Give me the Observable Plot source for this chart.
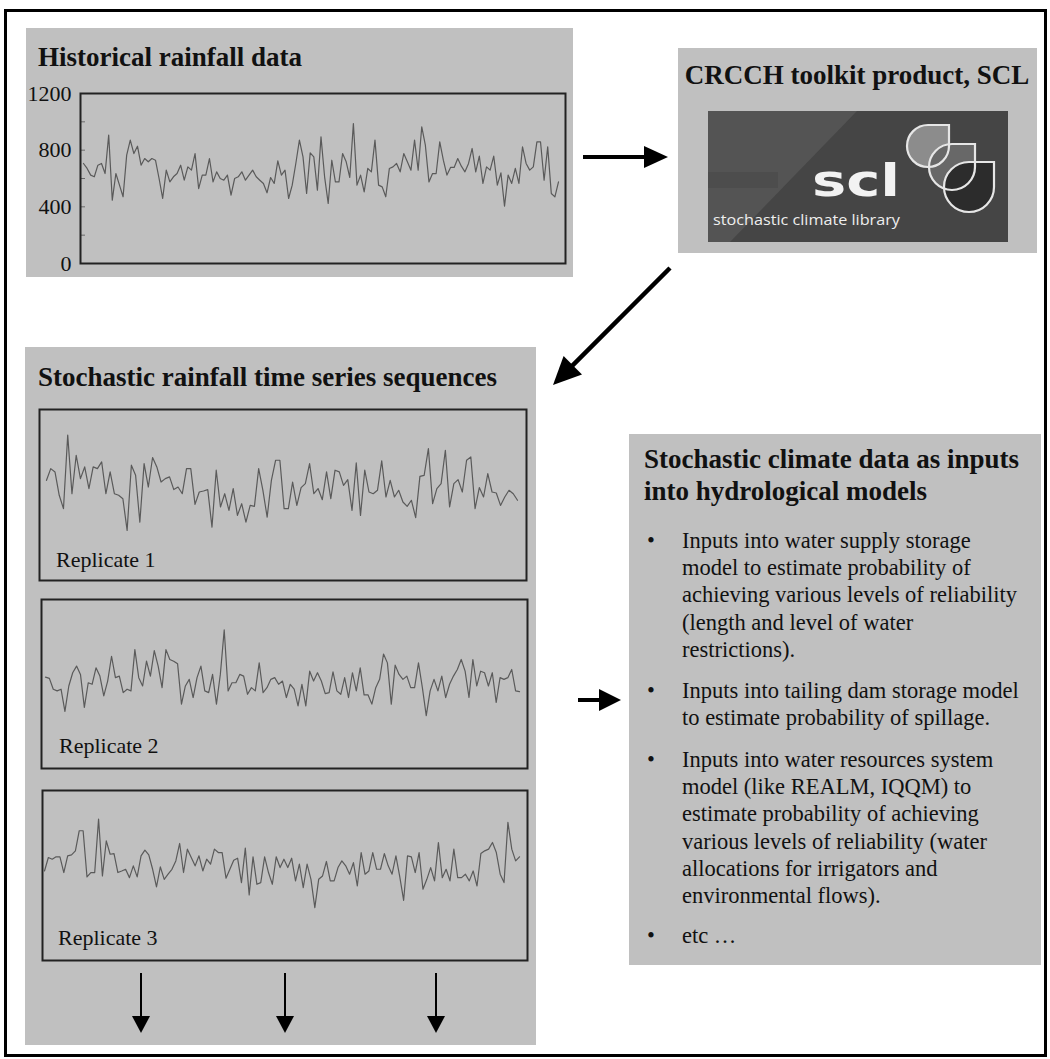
<!DOCTYPE html>
<html><head><meta charset="utf-8">
<script src="https://cdn.jsdelivr.net/npm/d3@7"></script>
<script src="https://cdn.jsdelivr.net/npm/@observablehq/plot@0.6"></script>
<style>
body{margin:0;background:#fff;}
#page{position:relative;width:1050px;height:1059px;overflow:hidden;font-family:"Liberation Serif","Times New Roman",serif;}
#page > svg{position:absolute;left:0;top:0;}
.chart{position:absolute;}
.chart svg{display:block;}
</style></head><body><div id="page"></div>
<script>
// ---- data (annual rainfall, mm) ----
const historicalRainfall = [706,671,624,612,694,706,635,906,447,635,553,471,765,871,776,828,694,741,718,741,729,600,459,659,576,612,635,694,588,682,659,776,529,624,624,741,576,647,600,588,624,482,600,612,647,588,624,659,612,588,565,499,607,565,724,624,659,459,553,706,871,753,494,781,
753,518,894,612,424,729,576,576,776,718,607,988,553,624,506,671,647,871,553,541,471,671,682,706,647,776,718,659,871,659,965,835,576,635,635,859,729,624,678,678,741,687,647,706,812,647,758,565,682,659,758,553,640,405,624,565,671,565,824,706,659,682,
859,859,588,823,494,470,576];
const replicate1 = [703,785,762,598,504,1020,609,879,715,797,645,797,785,832,609,762,609,598,574,352,809,738,410,820,656,863,797,691,715,727,638,656,609,785,785,534,621,628,638,375,774,516,609,492,645,457,539,410,527,520,785,633,445,703,844,844,504,504,691,527,652,680,820,609,645,567,762,574,774,762,668,708,492,825,457,774,621,609,633,839,586,703,586,633,551,520,563,441,731,738,926,539,645,680,914,516,680,708,621,844,867,504,652,586,750,621,614,527,586,633,609,563];
const replicate2 = [649,640,563,551,563,406,586,680,727,668,434,609,598,715,656,516,621,797,645,656,539,563,551,844,645,586,762,656,837,727,574,844,774,762,743,457,586,633,504,645,727,551,539,668,457,668,984,551,609,609,668,656,527,574,551,750,539,574,633,645,598,621,504,598,563,445,598,445,691,621,680,621,532,539,687,551,527,645,504,680,551,715,523,523,457,574,633,813,750,457,734,668,633,656,574,574,750,574,375,551,633,551,656,504,598,656,703,774,691,504,774,586,691,680,586,680,469,645,633,645,703,551,546];
const replicate3 = [632,727,715,732,732,621,739,746,774,916,916,590,621,621,998,597,845,750,755,621,632,644,585,668,590,739,779,746,644,519,661,573,609,644,703,826,621,786,727,668,739,632,715,680,786,762,762,581,644,708,722,550,793,463,732,538,550,732,621,538,732,656,715,656,722,562,680,514,680,573,373,573,597,699,562,562,656,703,668,609,691,526,762,609,632,762,644,644,755,668,609,739,590,425,739,732,621,762,503,573,656,562,833,585,644,562,786,585,585,609,562,632,526,755,774,786,833,762,609,550,975,786,703,732];
const yTicks = [0, 400, 800, 1200];
const minorTicks = [0, 200, 400, 600, 800, 1000, 1200];
const replicateLabels = ["Replicate 1", "Replicate 2", "Replicate 3"];
const boxTitles = ["Historical rainfall data", "CRCCH toolkit product, SCL", "Stochastic rainfall time series sequences"];
const usesTitle = ["Stochastic climate data as inputs", "into hydrological models"];
const usesBullets = [
  ["Inputs into water supply storage", "model to estimate probability of", "achieving various levels of reliability", "(length and level of water", "restrictions)."],
  ["Inputs into tailing dam storage model", "to estimate probability of spillage."],
  ["Inputs into water resources system", "model (like REALM, IQQM) to", "estimate probability of achieving", "various levels of reliability (water", "allocations for irrigators and", "environmental flows)."],
  ["etc \u2026"]
];

const page = document.getElementById("page");
const NS = "http://www.w3.org/2000/svg";
function el(parent, tag, attrs, text) {
  const e = document.createElementNS(NS, tag);
  for (const k in attrs) e.setAttribute(k, attrs[k]);
  if (text != null) e.textContent = text;
  parent.appendChild(e);
  return e;
}
function layerSvg() {
  const s = document.createElementNS(NS, "svg");
  s.setAttribute("width", 1050); s.setAttribute("height", 1059);
  s.style.pointerEvents = "none";
  page.appendChild(s);
  return s;
}

// ---- background layer ----
const bg = layerSvg();
el(bg, "rect", {x: 5.5, y: 10.5, width: 1040, height: 1045, fill: "none", stroke: "#000", "stroke-width": 3});
const GRAY = "#c0c0c0";
el(bg, "rect", {x: 26, y: 28, width: 547, height: 249, fill: GRAY});
el(bg, "rect", {x: 678, y: 48, width: 359, height: 205, fill: GRAY});
el(bg, "rect", {x: 25, y: 347, width: 511, height: 698, fill: GRAY});
el(bg, "rect", {x: 629, y: 434, width: 412, height: 531, fill: GRAY});

// ---- charts ----
function seriesChart(values, o) {
  const marks = [];
  if (o.axis) {
    marks.push(Plot.tickY(minorTicks, {y: d => d, insetRight: o.width - o.mL - o.mR - 5, stroke: "#6a6a6a", strokeWidth: 1}));
    marks.push(Plot.axisY({ticks: yTicks, tickSize: 0, tickPadding: 9, fontSize: 22, fill: "#111", tickFormat: d => String(d)}));
  }
  marks.push(Plot.lineY(values, {stroke: "#5a5a5a", strokeWidth: 1.2}));
  marks.push(Plot.frame({stroke: "#222", strokeWidth: 2}));
  const svg = Plot.plot({
    width: o.width, height: o.height,
    marginLeft: o.mL, marginRight: o.mR, marginTop: o.mT, marginBottom: o.mB,
    x: {domain: [0, values.length - 1], insetLeft: o.inL, insetRight: o.inR, axis: null},
    y: {domain: [0, 1200], axis: o.axis ? undefined : null},
    style: {background: "transparent", fontFamily: "Liberation Serif, serif", fontSize: "22px", color: "#111", overflow: "visible"},
    marks
  });
  const d = document.createElement("div");
  d.className = "chart";
  d.style.left = o.left + "px"; d.style.top = o.top + "px";
  d.appendChild(svg);
  page.appendChild(d);
}
seriesChart(historicalRainfall, {left: 26, top: 80, width: 547, height: 200, mL: 54, mR: 8, mT: 13, mB: 17, inL: 3, inR: 7, axis: true});
seriesChart(replicate1, {left: 38, top: 408, width: 489, height: 173, mL: 1, mR: 1, mT: 1, mB: 1, inL: 7, inR: 9});
seriesChart(replicate2, {left: 40, top: 598, width: 488, height: 171, mL: 1, mR: 1, mT: 1, mB: 1, inL: 4, inR: 8});
seriesChart(replicate3, {left: 41, top: 789, width: 487, height: 172, mL: 1, mR: 1, mT: 1, mB: 1, inL: 2, inR: 8});

// ---- foreground layer ----
const fg = layerSvg();
const serif = "Liberation Serif, Times New Roman, serif";
function title(x, y, t, anchor) {
  el(fg, "text", {x, y, "font-family": serif, "font-weight": "bold", "font-size": 27, fill: "#111", "text-anchor": anchor || "start"}, t);
}
title(38, 66, boxTitles[0]);
title(857, 84, boxTitles[1], "middle");
title(38, 386, boxTitles[2]);
title(644, 468, usesTitle[0]);
title(644, 500, usesTitle[1]);

const repBase = [[56, 567], [59, 753], [58, 945]];
replicateLabels.forEach((t, i) => el(fg, "text", {x: repBase[i][0], y: repBase[i][1], "font-family": serif, "font-size": 22, fill: "#111"}, t));

const paraStart = [548, 698, 767, 943];
usesBullets.forEach((lines, p) => {
  el(fg, "text", {x: 647, y: paraStart[p], "font-family": serif, "font-size": 22.5, fill: "#111"}, "\u2022");
  lines.forEach((ln, j) => el(fg, "text", {x: 682, y: paraStart[p] + j * 27.2, "font-family": serif, "font-size": 22.5, fill: "#111"}, ln));
});

function arrow(x1, y1, x2, y2, sw, hl, hw) {
  const dx = x2 - x1, dy = y2 - y1, L = Math.hypot(dx, dy), ux = dx / L, uy = dy / L;
  const bx = x2 - ux * hl, by = y2 - uy * hl;
  el(fg, "line", {x1, y1, x2: bx + ux * 2, y2: by + uy * 2, stroke: "#000", "stroke-width": sw});
  el(fg, "polygon", {points: `${x2},${y2} ${bx - uy * hw},${by + ux * hw} ${bx + uy * hw},${by - ux * hw}`, fill: "#000"});
}
arrow(583, 157, 668, 157, 4, 24, 11);
arrow(670, 268, 553, 385, 4.5, 28, 13);
arrow(578, 700, 621, 700, 4, 22, 11);
[141, 285, 436].forEach(x => arrow(x, 973, x, 1033, 2, 17, 9));

// ---- SCL logo ----
el(fg, "rect", {x: 708, y: 111, width: 300, height: 131, fill: "#454545"});
el(fg, "polygon", {points: "708,111 857,111 730,242 708,242", fill: "#545454"});
el(fg, "rect", {x: 708, y: 172, width: 70, height: 16, fill: "#4d4d4d"});
function dropPath(cx, cy, r) {
  return `M${cx},${cy - r} L${cx + r},${cy - r} L${cx + r},${cy} A${r},${r} 0 1 1 ${cx},${cy - r} Z`;
}
const drops = [[928, 146, 21, "#8c8c8c"], [952, 167, 23, "#686868"], [969, 187, 25, "#2c2c2c"]];
drops.forEach(d => el(fg, "path", {d: dropPath(d[0], d[1], d[2]), fill: d[3]}));
drops.forEach(d => el(fg, "path", {d: dropPath(d[0], d[1], d[2]), fill: "none", stroke: "#e6e6e6", "stroke-width": 2.2}));
el(fg, "text", {x: 812, y: 196, "font-family": "DejaVu Sans, sans-serif", "font-weight": "bold", "font-size": 44, fill: "#f2f2f2", textLength: 88, lengthAdjust: "spacingAndGlyphs"}, "scl");
el(fg, "text", {x: 713, y: 225, "font-family": "Open Sans, DejaVu Sans, sans-serif", "font-size": 14, fill: "#eeeeee", textLength: 187, lengthAdjust: "spacingAndGlyphs"}, "stochastic climate library");
</script></body></html>
